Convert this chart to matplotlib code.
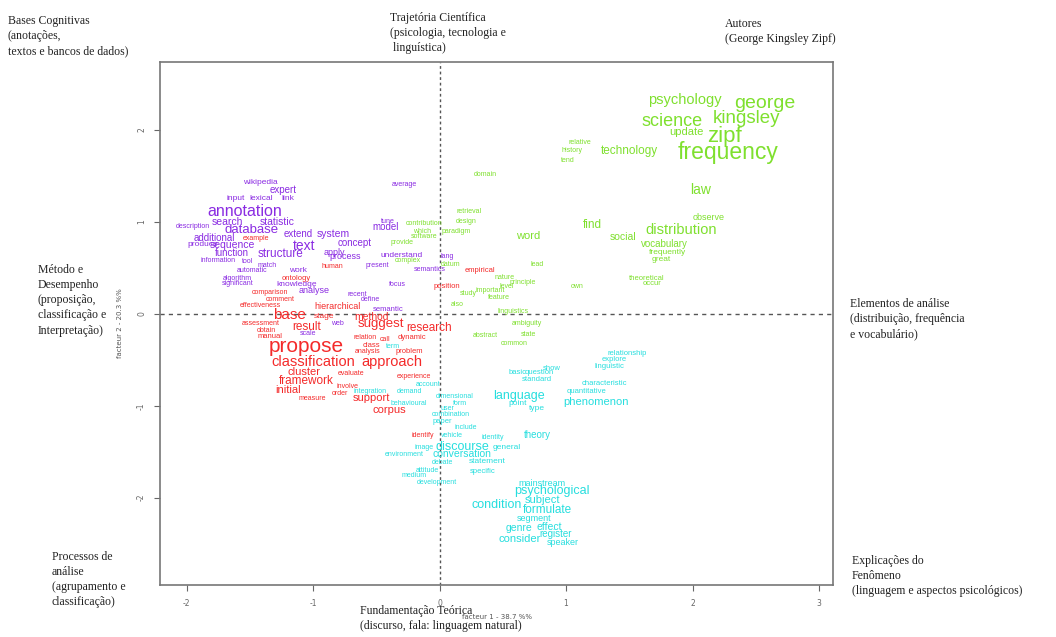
import matplotlib
matplotlib.use("Agg")
import matplotlib.pyplot as plt

plt.rcParams["axes.unicode_minus"] = False

# Words of each class with their coordinates on factor 1 / factor 2 and font size
green_words = ["psychology", "george", "science", "kingsley", "update", "zipf", "frequency",
               "technology", "relative", "history", "tend", "domain", "law", "observe", "find",
               "distribution", "word", "social", "vocabulary", "frequently", "great", "lead",
               "theoretical", "occur", "own", "nature", "principle", "level", "study", "important",
               "feature", "datum", "retrieval", "design", "paradigm", "contribution", "which",
               "software", "provide", "complex", "also", "linguistics", "ambiguity", "abstract",
               "state", "common"]
green_x = [1.94, 2.57, 1.84, 2.43, 1.95, 2.25, 2.28, 1.50, 1.11, 1.05, 1.01, 0.36, 2.06, 2.13,
           1.21, 1.91, 0.70, 1.45, 1.78, 1.80, 1.75, 0.77, 1.64, 1.68, 1.09, 0.51, 0.66, 0.53,
           0.23, 0.40, 0.47, 0.09, 0.23, 0.21, 0.13, -0.12, -0.14, -0.12, -0.30, -0.25, 0.14,
           0.58, 0.69, 0.36, 0.70, 0.59]
green_y = [2.33, 2.29, 2.09, 2.12, 1.98, 1.93, 1.75, 1.77, 1.86, 1.78, 1.67, 1.52, 1.35, 1.05,
           0.97, 0.91, 0.85, 0.84, 0.76, 0.67, 0.59, 0.54, 0.39, 0.33, 0.30, 0.40, 0.34, 0.30,
           0.22, 0.25, 0.18, 0.54, 1.11, 1.00, 0.90, 0.98, 0.90, 0.84, 0.78, 0.58, 0.10,
           0.03, -0.11, -0.24, -0.23, -0.32]
green_size = [10.5, 14, 13, 13.5, 8, 16, 16.5, 8.5, 5, 5, 5, 5, 10, 6.5, 8.5, 10.5, 8, 7.5, 7,
              6, 6, 5, 5.5, 5.5, 5, 5, 5, 5, 5, 5, 5, 5, 5, 5, 5, 5, 5, 5, 5, 5, 5, 5, 5, 5, 5, 5]

purple_words = ["wikipedia", "expert", "input", "lexical", "link", "average", "annotation",
                "search", "statistic", "description", "database", "additional", "extend",
                "system", "produce", "sequence", "text", "concept", "apply", "process",
                "function", "structure", "understand", "information", "tool", "match",
                "present", "automatic", "work", "algorithm", "significant", "knowledge", "focus",
                "analyse", "recent", "define", "semantic", "tune", "model", "lang", "semantics",
                "web", "scale"]
purple_x = [-1.42, -1.24, -1.61, -1.41, -1.20, -0.28, -1.54, -1.68, -1.28, -1.95, -1.49, -1.78,
            -1.12, -0.84, -1.87, -1.64, -1.07, -0.67, -0.83, -0.75, -1.64, -1.26, -0.30, -1.75,
            -1.52, -1.36, -0.49, -1.48, -1.12, -1.60, -1.60, -1.13, -0.33, -0.99, -0.65, -0.55,
            -0.41, -0.41, -0.43, 0.06, -0.08, -0.81, -1.04]
purple_y = [1.43, 1.35, 1.26, 1.26, 1.26, 1.41, 1.11, 1.00, 1.00, 0.95, 0.91, 0.83, 0.87, 0.87,
            0.75, 0.75, 0.74, 0.77, 0.67, 0.62, 0.66, 0.65, 0.64, 0.58, 0.57, 0.53, 0.53, 0.47,
            0.47, 0.39, 0.33, 0.32, 0.32, 0.25, 0.21, 0.16, 0.05, 1.01, 0.95, 0.62, 0.48,
            -0.11, -0.21]
purple_size = [6, 7, 6, 6, 6, 5, 11.5, 7.5, 7.5, 5, 9.5, 7, 7, 7.5, 6, 7.5, 10, 7, 6.5, 6.5, 7,
               8.5, 6, 5, 5, 5, 5, 5, 6, 5, 5, 6, 5, 6.5, 5, 5, 5.5, 5, 7, 5, 5, 5, 5]

red_words = ["example", "human", "ontology", "comparison", "comment", "effectiveness",
             "hierarchical", "position", "empirical", "base", "stage", "method", "suggest",
             "assessment", "result", "obtain", "manual", "research", "relation", "call",
             "dynamic", "propose", "class", "analysis", "problem", "classification", "approach",
             "cluster", "evaluate", "experience", "framework", "involve", "initial", "order",
             "measure", "support", "corpus", "identify"]
red_x = [-1.45, -0.85, -1.13, -1.34, -1.26, -1.42, -0.81, 0.06, 0.32, -1.19, -0.91, -0.54, -0.46,
         -1.41, -1.05, -1.37, -1.34, -0.08, -0.59, -0.43, -0.22, -1.05, -0.54, -0.57, -0.24,
         -1.00, -0.38, -1.07, -0.70, -0.20, -1.05, -0.73, -1.20, -0.79, -1.01, -0.54, -0.40,
         -0.13]
red_y = [0.82, 0.51, 0.38, 0.23, 0.16, 0.09, 0.08, 0.30, 0.47, -0.01, -0.03, -0.03, -0.11,
         -0.11, -0.14, -0.18, -0.25, -0.15, -0.26, -0.28, -0.26, -0.36, -0.34, -0.41, -0.41,
         -0.52, -0.52, -0.63, -0.65, -0.68, -0.73, -0.79, -0.83, -0.87, -0.92, -0.92, -1.05,
         -1.32]
red_size = [5, 5, 5.5, 5, 5, 5, 6.5, 5.5, 5.5, 11, 6, 7.5, 9.5, 5, 8.5, 5, 5.5, 8.5, 5, 5, 5.5,
            15, 5.5, 5, 5.5, 10.5, 10.5, 8, 5, 5, 8.5, 5, 8, 5, 5, 8, 8, 5]

cyan_words = ["term", "relationship", "explore", "linguistic", "show", "basic", "question",
              "standard", "characteristic", "quantitative", "language", "phenomenon", "point",
              "type", "account", "demand", "integration", "dimensional", "form", "behavioural",
              "user", "combination", "paper", "include", "vehicle", "identity", "theory",
              "discourse", "general", "image", "environment", "conversation", "debate",
              "statement", "attitude", "specific", "medium", "development", "mainstream",
              "psychological", "subject", "condition", "formulate", "segment", "genre",
              "effect", "register", "consider", "speaker"]
cyan_x = [-0.37, 1.48, 1.38, 1.34, 0.89, 0.62, 0.79, 0.77, 1.30, 1.16, 0.63, 1.24, 0.62, 0.77,
          -0.09, -0.24, -0.55, 0.12, 0.16, -0.24, 0.06, 0.09, 0.02, 0.21, 0.10, 0.42, 0.77,
          0.18, 0.53, -0.12, -0.28, 0.18, 0.02, 0.38, -0.10, 0.34, -0.20, -0.02, 0.81, 0.89,
          0.81, 0.45, 0.85, 0.75, 0.63, 0.87, 0.92, 0.63, 0.97]
cyan_y = [-0.35, -0.43, -0.50, -0.57, -0.59, -0.64, -0.64, -0.71, -0.76, -0.84, -0.89, -0.96,
          -0.97, -1.03, -0.77, -0.84, -0.85, -0.90, -0.97, -0.97, -1.03, -1.10, -1.17, -1.24,
          -1.32, -1.34, -1.32, -1.45, -1.45, -1.45, -1.53, -1.53, -1.62, -1.61, -1.70, -1.72,
          -1.76, -1.84, -1.85, -1.93, -2.03, -2.08, -2.13, -2.23, -2.33, -2.32, -2.39, -2.45,
          -2.49]
cyan_size = [5, 5.5, 5.5, 5.5, 5.5, 5.5, 5.5, 5.5, 5.5, 5.5, 9, 8, 6, 6, 5, 5, 5, 5, 5, 5, 5,
             5, 5.5, 5, 5, 5, 7, 9, 6, 5, 5, 7.5, 5, 6, 5, 5.5, 5, 5, 6.5, 9, 8, 9, 8.5, 6.5,
             7.5, 7.5, 7, 8, 6.5]

classes = [
    (green_words, green_x, green_y, green_size, "#7fe02e"),
    (purple_words, purple_x, purple_y, purple_size, "#8a2be2"),
    (red_words, red_x, red_y, red_size, "#f42a2a"),
    (cyan_words, cyan_x, cyan_y, cyan_size, "#26dede"),
]

fig = plt.figure(figsize=(10.56, 6.37), dpi=100)
ax = fig.add_axes([160 / 1056, 1 - 585 / 637, 673 / 1056, 523 / 637])
ax.set_xlim(-2.21, 3.11)
ax.set_ylim(-2.95, 2.74)

for words, xs, ys, sizes, color in classes:
    for w, x, y, s in zip(words, xs, ys, sizes):
        ax.text(x, y, w, color=color, fontsize=s, family="Liberation Sans",
                ha="center", va="center")

ax.axvline(0, color="#555555", linestyle=(0, (2, 2)), linewidth=1)
ax.axhline(0, color="#555555", linestyle=(0, (3, 3)), linewidth=1)

for sp in ax.spines.values():
    sp.set_color("#777777")
    sp.set_linewidth(1.2)

ax.set_xticks([-2, -1, 0, 1, 2, 3])
ax.set_yticks([-2, -1, 0, 1, 2])
ax.tick_params(axis="both", colors="#666666", labelsize=5.5, length=4, pad=6)
for lab in ax.get_yticklabels():
    lab.set_rotation(90)
    lab.set_va("center")
ax.set_xlabel("facteur 1 - 38.7 %%", fontsize=5, color="#555555")
ax.xaxis.set_label_coords(0.5, -0.055)
ax.set_ylabel("facteur 2 - 20.3 %%", fontsize=5, color="#555555")
ax.yaxis.set_label_coords(-0.055, 0.5)

# Interpretation notes around the plane
serif = "Liberation Serif"
notes = [
    (8, 15, "Bases Cognitivas\n(anotações,\ntextos e bancos de dados)"),
    (390, 12, "Trajetória Científica\n(psicologia, tecnologia e\n linguística)"),
    (725, 18, "Autores\n(George Kingsley Zipf)"),
    (38, 264, "Método e\nDesempenho\n(proposição,\nclassificação e\nInterpretação)"),
    (850, 298, "Elementos de análise\n(distribuição, frequência\ne vocabulário)"),
    (52, 551, "Processos de\nanálise\n(agrupamento e\nclassificação)"),
    (852, 555, "Explicações do\nFenômeno\n(linguagem e aspectos psicológicos)"),
    (360, 605, "Fundamentação Teórica\n(discurso, fala: linguagem natural)"),
]
for px, py, txt in notes:
    fig.text(px / 1056, 1 - py / 637, txt, family=serif, fontsize=8.5, color="#222222",
             ha="left", va="top", linespacing=1.35)

fig.savefig("out.png", dpi=100)
